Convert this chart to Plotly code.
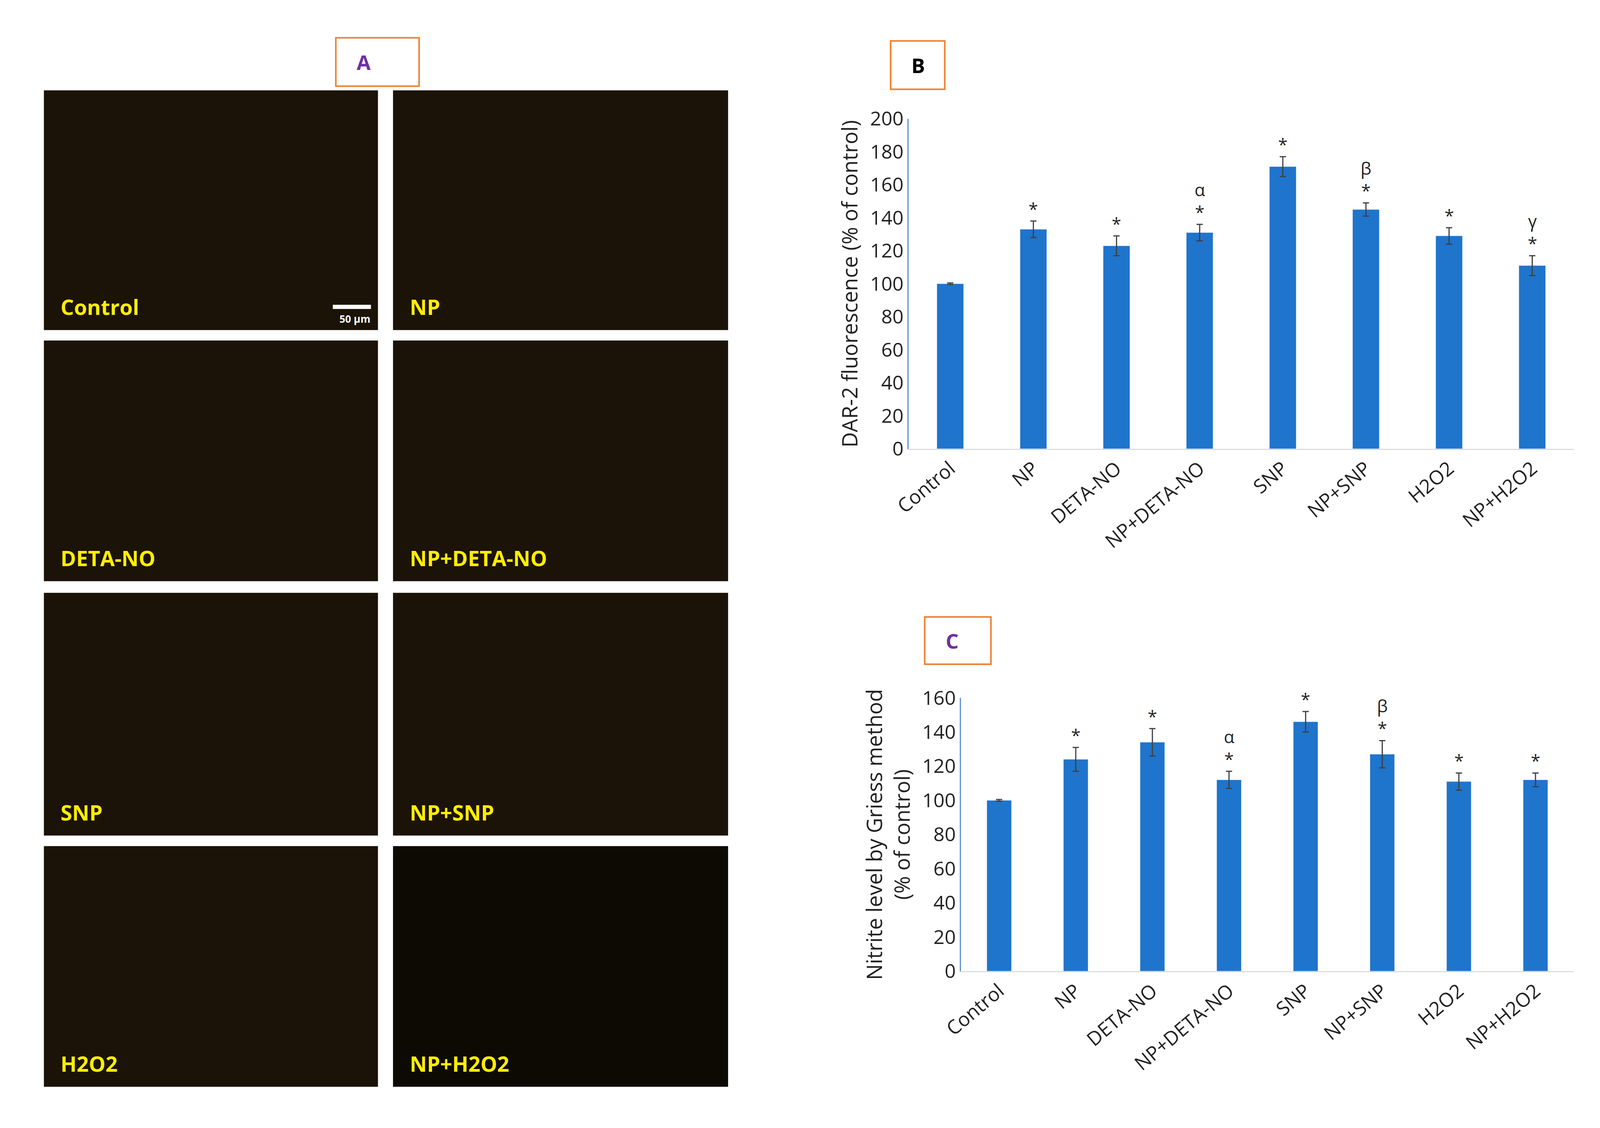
import plotly.graph_objects as go

# data
groups = ["Control", "NP", "DETA-NO", "NP+DETA-NO", "SNP", "NP+SNP", "H2O2", "NP+H2O2"]
dar2 = [100, 133, 123, 131, 171, 145, 129, 111]
dar2_err = [0.5, 5, 6, 5, 6, 4, 5, 6]
dar2_sig = ["", "*", "*", "α<br>*", "*", "β<br>*", "*", "γ<br>*"]
nitrite = [100, 124, 134, 112, 146, 127, 111, 112]
nitrite_err = [0.5, 7, 8, 5, 6, 8, 5, 4]
nitrite_sig = ["", "*", "*", "α<br>*", "*", "β<br>*", "*", "*"]
image_labels = [["Control", "NP"], ["DETA-NO", "NP+DETA-NO"], ["SNP", "NP+SNP"], ["H2O2", "NP+H2O2"]]

W, H = 1568.0, 1042.0
def px(x): return x / W
def py(y): return 1 - y / H

BAR = "#1f74cc"
fig = go.Figure()
fig.add_bar(x=groups, y=dar2, marker_color=BAR, width=0.32,
            error_y=dict(type="data", array=dar2_err, color="#404040", thickness=3, width=8),
            xaxis="x", yaxis="y", showlegend=False)
fig.add_bar(x=groups, y=nitrite, marker_color=BAR, width=0.32,
            error_y=dict(type="data", array=nitrite_err, color="#404040", thickness=3, width=8),
            xaxis="x2", yaxis="y2", showlegend=False)

ann = []
for g, v, e, s in zip(groups, dar2, dar2_err, dar2_sig):
    if s:
        ann.append(dict(x=g, y=v + e, xref="x", yref="y", text=s, showarrow=False,
                        yanchor="bottom", font=dict(size=44, color="#222")))
for g, v, e, s in zip(groups, nitrite, nitrite_err, nitrite_sig):
    if s:
        ann.append(dict(x=g, y=v + e, xref="x2", yref="y2", text=s, showarrow=False,
                        yanchor="bottom", font=dict(size=44, color="#222")))

shapes = []
cols = [(20, 353), (368, 702)]
rows = [(70, 298), (308, 537), (548, 779), (789, 1018)]
for r, (y0, y1) in enumerate(rows):
    for c, (x0, x1) in enumerate(cols):
        fill = "#0d0a04" if (r, c) == (3, 1) else "#1b1307"
        shapes.append(dict(type="rect", xref="paper", yref="paper", x0=px(x0), x1=px(x1),
                           y0=py(y1), y1=py(y0), fillcolor=fill, line_width=0, layer="below"))
        ann.append(dict(x=px(x0 + 16), y=py(y1 - 22), xref="paper", yref="paper",
                        text="<b>%s</b>" % image_labels[r][c], showarrow=False,
                        xanchor="left", yanchor="middle", font=dict(size=54, color="#ffee00")))
# scale bar
shapes.append(dict(type="rect", xref="paper", yref="paper", x0=px(308), x1=px(346),
                   y0=py(278), y1=py(274), fillcolor="white", line_width=0))
ann.append(dict(x=px(346), y=py(280), xref="paper", yref="paper", text="<b>50 µm</b>",
                showarrow=False, xanchor="right", yanchor="top", font=dict(size=26, color="white")))

# panel letter boxes
for (x0, x1, y0, y1, t, col) in [(311, 394, 20, 66, "A", "#7030a0"),
                                 (864, 918, 23, 69, "B", "#000000"),
                                 (898, 964, 571, 616, "C", "#7030a0")]:
    shapes.append(dict(type="rect", xref="paper", yref="paper", x0=px(x0), x1=px(x1),
                       y0=py(y1), y1=py(y0), line=dict(color="#f08030", width=4)))
    ann.append(dict(x=px(x0 + 20), y=py((y0 + y1) / 2), xref="paper", yref="paper",
                    text="<b>%s</b>" % t, showarrow=False, xanchor="left", yanchor="middle",
                    font=dict(size=52, color=col)))

ax = dict(showgrid=False, zeroline=False, showline=True, linecolor="#5b8fd6", linewidth=3,
          tickfont=dict(size=50, color="#222"), ticks="")
xax = dict(showgrid=False, showline=True, linecolor="#d0d0d0", linewidth=2, tickangle=-40,
           tickfont=dict(size=50, color="#222"), ticks="")

fig.update_layout(
    autosize=True, paper_bgcolor="white", plot_bgcolor="white",
    font=dict(family="Open Sans, sans-serif"),
    margin=dict(l=0, r=0, t=0, b=0), bargap=0.6,
    xaxis=dict(xax, domain=[px(882), px(1545)], anchor="y"),
    yaxis=dict(ax, domain=[py(411), py(97)], range=[0, 200], dtick=20, anchor="x",
               title=dict(text="DAR-2 fluorescence (% of control)", font=dict(size=54, color="#222"))),
    xaxis2=dict(xax, domain=[px(934), px(1545)], anchor="y2"),
    yaxis2=dict(ax, domain=[py(908), py(648)], range=[0, 160], dtick=20, anchor="x2",
                title=dict(text="Nitrite level by Griess method<br>(% of control)",
                           font=dict(size=54, color="#222"))),
    annotations=ann, shapes=shapes,
)
fig.write_html("out.html")
